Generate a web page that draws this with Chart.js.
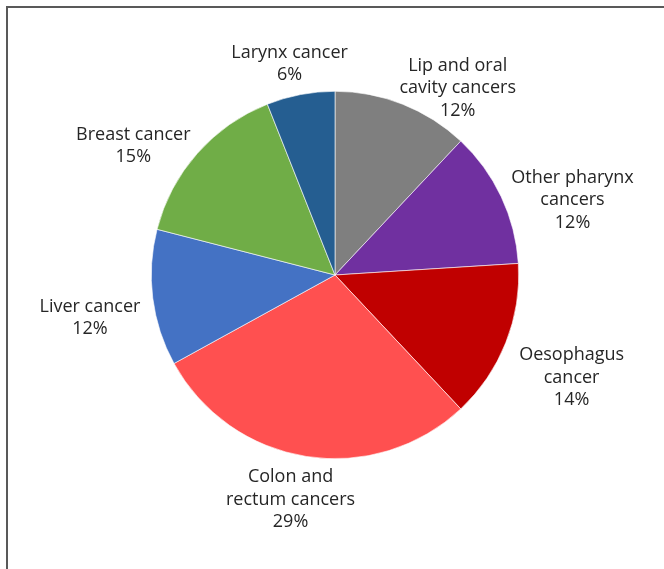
<!DOCTYPE html>
<html>
<head>
<meta charset="utf-8">
<script src="https://cdn.jsdelivr.net/npm/chart.js@4.4.0/dist/chart.umd.min.js"></script>
<style>
  html, body { margin: 0; padding: 0; background: #fff; }
  #wrap { position: relative; width: 664px; height: 569px; }
  #frame { position: absolute; left: 6px; top: 6px; right: 0; bottom: 0;
           border-top: 2px solid #595959; border-left: 2px solid #595959; pointer-events: none; }
  canvas { position: absolute; left: 0; top: 0; }
</style>
</head>
<body>
<div id="wrap">
  <canvas id="pie" width="664" height="569"></canvas>
  <div id="frame"></div>
</div>
<script>
/* Cancer share pie */

const categories = [
  ["Lip and oral", "cavity cancers"],
  ["Other pharynx", "cancers"],
  ["Oesophagus", "cancer"],
  ["Colon and", "rectum cancers"],
  ["Liver cancer"],
  ["Breast cancer"],
  ["Larynx cancer"],
];
const shares = [12, 12, 14, 29, 12, 15, 6];
const sliceColors = ["#7f7f7f", "#7030a0", "#c00000", "#ff5050", "#4472c4", "#70ad47", "#255e91"];

// label centres relative to pie centre, in units of the pie radius
const labelOffsets = [
  [0.668, -1.016],
  [1.293, -0.408],
  [1.288, 0.560],
  [-0.242, 1.223],
  [-1.334, 0.234],
  [-1.098, -0.704],
  [-0.247, -1.149],
];

const outsideLabels = {
  id: "outsideLabels",
  afterDatasetsDraw(chart) {
    const { ctx } = chart;
    const arcs = chart.getDatasetMeta(0).data;
    ctx.save();
    ctx.font = '18px "Open Sans", "Noto Sans", sans-serif';
    ctx.fillStyle = "#262626";
    ctx.textAlign = "center";
    ctx.textBaseline = "middle";
    arcs.forEach((arc, i) => {
      const r = arc.outerRadius;
      const cx = arc.x + labelOffsets[i][0] * r;
      const cy = arc.y + labelOffsets[i][1] * r;
      const lines = [...categories[i], `${shares[i]}%`];
      const lh = 22.5;
      const top = cy - ((lines.length - 1) * lh) / 2;
      lines.forEach((t, k) => ctx.fillText(t, cx, top + k * lh));
    });
    ctx.restore();
  },
};

new Chart(document.getElementById("pie").getContext("2d"), {
  type: "pie",
  data: {
    labels: categories.map((c) => c.join(" ")),
    datasets: [{ data: shares, backgroundColor: sliceColors, borderColor: "#ffffff", borderWidth: 0.6 }],
  },
  options: {
    responsive: false,
    animation: false,
    layout: { padding: { top: 91, bottom: 110, left: 151, right: 145 } },
    plugins: { legend: { display: false }, tooltip: { enabled: false } },
  },
  plugins: [outsideLabels],
});
</script>
</body>
</html>
